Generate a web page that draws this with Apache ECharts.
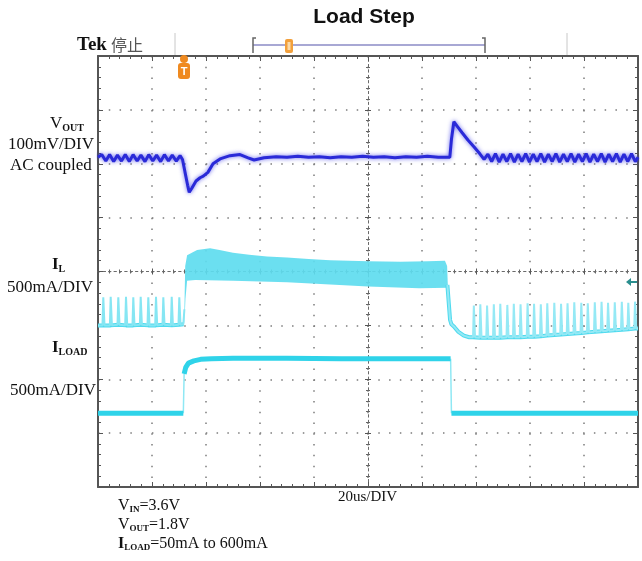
<!DOCTYPE html>
<html><head><meta charset="utf-8">
<script src="https://cdn.jsdelivr.net/npm/echarts@6/dist/echarts.min.js"></script>
<style>html,body{margin:0;padding:0;background:#fff}#c{width:642px;height:561px}</style>
</head><body><div id="c"></div>
<script>
// ---- Time axis: microseconds (20us/DIV, 10 divisions); vertical axis: screen divisions (0..8)
const xTicks = [0, 20, 40, 60, 80, 100, 120, 140, 160, 180, 200];
const yTicks = [0, 1, 2, 3, 4, 5, 6, 7, 8];

// ---- VOUT trace (divisions)
const vout_t = [0,1.4,2.9,4.3,5.8,7.2,8.7,10.1,11.6,13.0,14.5,15.9,17.4,18.8,20.3,21.7,23.2,24.6,26.1,27.5,29.0,30.4,
  31.3,32.2,33.2,33.8,34.8,36.3,37.8,39.0,40.7,42.6,45.2,48.9,52.6,55.6,57.8,61.5,66,
  70,74,78,82,86,90,94,98,102,106,110,114,118,122,126,130.3,
  130.9,131.8,133.0,134.8,137.0,139.3,141.5,143.0,
  144.4,145.8,147.2,148.6,150.0,151.4,152.8,154.2,155.6,157.0,158.4,159.8,161.2,162.6,164.0,165.4,166.8,168.2,169.6,171.0,
  172.4,173.8,175.2,176.6,178.0,179.4,180.8,182.2,183.6,185.0,186.4,187.8,189.2,190.6,192.0,193.4,194.8,196.2,197.6,199.0,200];
const vout_v = [6.12,6.17,6.05,6.17,6.04,6.16,6.05,6.17,6.04,6.17,6.05,6.16,6.04,6.17,6.05,6.16,6.04,6.17,6.05,6.16,6.05,6.15,
  6.08,5.85,5.60,5.47,5.55,5.68,5.74,5.77,5.84,6.00,6.09,6.15,6.17,6.11,6.07,6.11,6.13,
  6.12,6.14,6.12,6.13,6.11,6.13,6.12,6.14,6.12,6.13,6.11,6.13,6.12,6.14,6.12,6.12,
  6.45,6.78,6.70,6.58,6.44,6.31,6.18,6.08,
  6.18,6.04,6.19,6.03,6.18,6.04,6.19,6.03,6.18,6.04,6.19,6.03,6.18,6.04,6.19,6.03,6.18,6.04,6.19,6.03,
  6.18,6.04,6.19,6.03,6.18,6.04,6.19,6.03,6.18,6.04,6.19,6.03,6.18,6.04,6.19,6.03,6.18,6.04,6.19,6.04,6.12];

// ---- IL trace, light load before the step: spike times, baseline, spike tops
const ilPre_spike_t = [1.96,4.70,7.52,10.37,13.07,15.81,18.63,21.48,24.19,27.30,30.11];
const ilPre_base = [3.00,3.00,3.01,3.00,3.00,3.01,3.00,3.00,3.01,3.00,3.01];
const ilPre_top = [3.52,3.53,3.52,3.53,3.52,3.53,3.52,3.53,3.52,3.53,3.52];
// ---- IL heavy-load band (upper and lower envelope)
const ilBand_top_t = [31.9,32.3,33.0,36.7,41.5,45,50,56,62.6,70,78,86,100,112,122,128.5,129.3];
const ilBand_top_v = [3.05,4.10,4.30,4.40,4.43,4.40,4.35,4.31,4.28,4.26,4.23,4.21,4.19,4.18,4.19,4.20,4.10];
const ilBand_bot_t = [129.6,119,100,86,70,50,36,33,32.4,32.0];
const ilBand_bot_v = [3.70,3.69,3.72,3.76,3.80,3.83,3.84,3.83,3.50,3.05];
// ---- IL after the load step down
const ilDrop_t = [129.4,130.4,130.9,131.8,133.5,135.5,137.5,138.9];
const ilDrop_v = [3.75,3.10,3.02,2.98,2.88,2.81,2.78,2.78];
const ilPost_spike_t = [139.2,141.6,144.1,146.6,149.0,151.6,154.0,156.5,159.1,161.5,164.0,166.4,169.0,171.5,173.9,176.4,179.0,181.4,184.0,186.5,188.9,191.4,194.0,196.4,198.9];
const ilPost_base = [2.78,2.77,2.77,2.77,2.77,2.78,2.78,2.78,2.79,2.79,2.80,2.81,2.82,2.83,2.84,2.85,2.86,2.87,2.88,2.89,2.90,2.91,2.92,2.93,2.94];
const ilPost_top = [3.37,3.39,3.37,3.39,3.40,3.38,3.40,3.39,3.41,3.40,3.39,3.41,3.42,3.40,3.41,3.43,3.42,3.41,3.43,3.44,3.42,3.43,3.44,3.42,3.44];

// ---- ILOAD trace
const iload_t = [0,31.6,31.9,32.5,33.5,35.5,38,42,50,70,90,110,130.6,130.9,200];
const iload_v = [1.37,1.37,2.10,2.22,2.30,2.34,2.37,2.38,2.39,2.39,2.38,2.38,2.38,1.37,1.37];
const iload_edges = [[1, 2], [12, 13]];   // index pairs of the fast transitions

// ---- helpers to build series data
const zip = (a, b) => a.map((v, i) => [v, b[i]]);
function spikeLine(ts, base, top) {
  const out = [];
  ts.forEach((t, i) => { out.push([t - 0.3, base[i]], [t, top[i]], [t + 0.45, base[i]]); });
  return out;
}
const ilPreData = [[0, ilPre_base[0]]].concat(spikeLine(ilPre_spike_t, ilPre_base, ilPre_top), [[31.6, 3.02], [32.0, 3.3]]);
const ilPreBase = [[0, ilPre_base[0]]].concat(ilPre_spike_t.map((t, i) => [t, ilPre_base[i]]), [[31.7, 3.02]]);
const ilPostData = zip(ilDrop_t, ilDrop_v).concat(spikeLine(ilPost_spike_t, ilPost_base, ilPost_top), [[200, ilPost_base[ilPost_base.length - 1]]]);
const ilPostBase = zip(ilDrop_t, ilDrop_v).concat(ilPost_spike_t.map((t, i) => [t, ilPost_base[i]]), [[200, ilPost_base[ilPost_base.length - 1]]]);
const bandPoly = zip(ilBand_top_t, ilBand_top_v).concat(zip(ilBand_bot_t, ilBand_bot_v));
// ILOAD: thick levels with the fast edges broken out, thin edges drawn separately
const iloadLevels = [];
zip(iload_t, iload_v).forEach((p, i) => {
  iloadLevels.push(p);
  if (iload_edges.some(e => e[0] === i)) iloadLevels.push([(iload_t[i] + iload_t[i + 1]) / 2, null]);
});
const iloadEdges = [];
iload_edges.forEach(e => { iloadEdges.push([iload_t[e[0]], iload_v[e[0]]], [iload_t[e[1]], iload_v[e[1]]], [iload_t[e[1]] + 0.01, null]); });

const chart = echarts.init(document.getElementById('c'), null, {renderer: 'canvas'});
const G = {left: 98, top: 56, width: 540, height: 431};
const tickStyle = {color: '#555', width: 1};
const dotStyle = {color: '#7c7c7c', width: 1.5, type: [1.5, 9.28]};

function edgeAxis(pos, isX, split) {
  return {
    gridIndex: 0, type: 'value', position: pos,
    min: isX ? xTicks[0] : yTicks[0], max: isX ? xTicks[xTicks.length - 1] : yTicks[yTicks.length - 1],
    interval: isX ? xTicks[1] - xTicks[0] : yTicks[1] - yTicks[0],
    axisLine: {show: true, onZero: false, lineStyle: {color: '#555', width: 2}},
    axisTick: {show: true, inside: true, length: 5, lineStyle: tickStyle},
    minorTick: {show: true, splitNumber: 5, length: 3, lineStyle: tickStyle},
    axisLabel: {show: false},
    splitLine: {show: split, lineStyle: dotStyle}
  };
}
function centerAxis(pos, isX) {
  return {
    gridIndex: 1, type: 'value', position: pos,
    min: isX ? -100 : -4, max: isX ? 100 : 4, interval: isX ? 20 : 1,
    axisLine: {show: true, onZero: true, lineStyle: {color: '#6a6a6a', width: 1, type: [2, 3.39]}},
    axisTick: {show: true, inside: false, length: 3, lineStyle: {color: '#555'}},
    minorTick: {show: true, splitNumber: 5, length: 2, lineStyle: {color: '#666'}},
    axisLabel: {show: false}, splitLine: {show: false}
  };
}

const serif = '"Liberation Serif","Times New Roman",serif';
const mctx = document.createElement('canvas').getContext('2d');
function textW(t, font) { mctx.font = font; return mctx.measureText(t).width; }
function ptext(x, y, text, font, fill, align) {
  return {type: 'text', x: x, y: y, z: 100, silent: true,
    style: {text: text, font: font, fill: fill || '#111', align: align || 'left', verticalAlign: 'middle',
      textAlign: align || 'left', textVerticalAlign: 'middle'}};
}
// parts: [text, font, dy]
function runText(x, y, parts) {
  const out = [];
  let cx = x;
  parts.forEach(p => {
    out.push(ptext(cx, y + (p[2] || 0), p[0], p[1]));
    cx += textW(p[0], p[1]) + (p[3] || 0);
  });
  return out;
}
const F17 = '17px ' + serif, B17 = 'bold 17px ' + serif, S10 = 'bold 10px ' + serif;
const F16 = '16px ' + serif, B16 = 'bold 16px ' + serif, S9 = 'bold 9px ' + serif;

const graphics = [
  ptext(364, 17, 'Load Step', 'bold 21px "Liberation Sans", Arial, sans-serif', '#111', 'center'),
  ptext(77, 45, 'Tek', 'bold 19px ' + serif, '#111'),
  ptext(111, 45, '停止', '16px "Noto Sans CJK SC", sans-serif', '#555'),
  {type: 'line', z: 90, shape: {x1: 175, y1: 33, x2: 175, y2: 55}, style: {stroke: '#c8c8c8', lineWidth: 1}},
  {type: 'line', z: 90, shape: {x1: 567, y1: 33, x2: 567, y2: 55}, style: {stroke: '#c8c8c8', lineWidth: 1}},
  {type: 'line', z: 90, shape: {x1: 253, y1: 45, x2: 485, y2: 45}, style: {stroke: '#a8a8d4', lineWidth: 2}},
  {type: 'polyline', z: 91, shape: {points: [[256, 38], [253, 38], [253, 53]]}, style: {stroke: '#666', lineWidth: 1.5, fill: null}},
  {type: 'polyline', z: 91, shape: {points: [[482, 38], [485, 38], [485, 53]]}, style: {stroke: '#666', lineWidth: 1.5, fill: null}},
  {type: 'rect', z: 92, shape: {x: 285, y: 39, width: 8, height: 14, r: 2}, style: {fill: '#f2a03c'}},
  {type: 'rect', z: 93, shape: {x: 287.5, y: 42, width: 3, height: 8}, style: {fill: '#fbd9a8'}},
  {type: 'circle', z: 92, shape: {cx: 184, cy: 59, r: 4}, style: {fill: '#ef8a20'}},
  {type: 'rect', z: 92, shape: {x: 178, y: 63, width: 12, height: 16, r: 3}, style: {fill: '#ef8a20'}},
  ptext(184, 71.5, 'T', 'bold 11px "Liberation Sans", sans-serif', '#ffffff', 'center'),
  {type: 'polygon', z: 92, shape: {points: [[626, 282], [631, 278], [631, 281], [637, 281], [637, 283], [631, 283], [631, 286]]}, style: {fill: '#2a8e8e'}},
  ptext(8, 145, '100mV/DIV', F17),
  ptext(10, 166, 'AC coupled', F17),
  ptext(7, 288, '500mA/DIV', F17),
  ptext(10, 391, '500mA/DIV', F17),
  ptext(338, 497, '20us/DIV', '15px ' + serif)
].concat(
  runText(50, 124, [['V', F17, 0], ['OUT', S10, 4, 0]]),
  runText(52, 265, [['I', B17, 0], ['L', S10, 4]]),
  runText(52, 348, [['I', B17, 0], ['LOAD', S10, 4]]),
  runText(118, 506, [['V', F16, 0], ['IN', S9, 4], ['=3.6V', F16, 0]]),
  runText(118, 525, [['V', F16, 0], ['OUT', S9, 4], ['=1.8V', F16, 0]]),
  runText(118, 544, [['I', B16, 0], ['LOAD', S9, 4], ['=50mA to 600mA', F16, 0]])
);

const option = {
  backgroundColor: '#ffffff',
  animation: false,
  grid: [Object.assign({}, G), Object.assign({}, G)],
  xAxis: [edgeAxis('bottom', true, true), edgeAxis('top', true, false), centerAxis('bottom', true), centerAxis('top', true)],
  yAxis: [edgeAxis('left', false, true), edgeAxis('right', false, false), centerAxis('left', false), centerAxis('right', false)],
  series: [
    {type: 'custom', xAxisIndex: 0, yAxisIndex: 0, z: 3, silent: true, data: [[0, 0]],
      renderItem: function (params, api) {
        return {type: 'polygon', shape: {points: bandPoly.map(p => api.coord(p))}, style: {fill: '#5edcef', opacity: 0.92}};
      }},
    {type: 'line', data: ilPreBase, symbol: 'none', z: 3, lineStyle: {color: '#4fdaee', width: 4}},
    {type: 'line', data: ilPreData, symbol: 'none', z: 3, lineStyle: {color: '#86e6f3', width: 2}},
    {type: 'line', data: ilPostBase, symbol: 'none', z: 3, lineStyle: {color: '#4fdaee', width: 4}},
    {type: 'line', data: ilPostData, symbol: 'none', z: 3, lineStyle: {color: '#95e9f5', width: 2}},
    {type: 'line', data: iloadEdges, symbol: 'none', z: 4, connectNulls: false, lineStyle: {color: '#8fe8f4', width: 1.5}},
    {type: 'line', data: iloadLevels, symbol: 'none', z: 4, connectNulls: false, lineStyle: {color: '#2fd3e9', width: 5}},
    {type: 'line', data: zip(vout_t, vout_v), symbol: 'none', z: 5,
      lineStyle: {color: '#2a2ad8', width: 3, shadowBlur: 4, shadowColor: 'rgba(40,40,230,0.7)'}}
  ],
  graphic: graphics
};
chart.setOption(option);
</script></body></html>
